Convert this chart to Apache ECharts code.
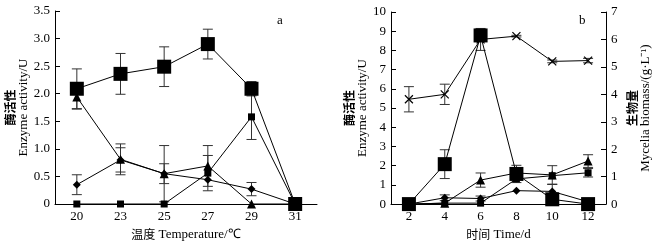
<!DOCTYPE html>
<html>
<head>
<meta charset="utf-8">
<script src="https://cdn.jsdelivr.net/npm/echarts@6/dist/echarts.min.js"></script>
<style>
    html, body { margin: 0; padding: 0; background: #fff; }
    #chart { width: 659px; height: 246px; }
</style>
</head>
<body>
<div id="chart"></div>
<script>
// panel a: temperature
const tempCats = ["20", "23", "25", "27", "29", "31"];
const aBigSq = [2.09, 2.36, 2.49, 2.90, 2.09, 0];
const aBigSqErr = [0.36, 0.37, 0.36, 0.27, 0.13, 0];
const aSmallSq = [0, 0, 0, 0.56, 1.58, 0];
const aSmallSqErr = [0, 0, 0, 0.32, 0.41, 0];
const aTri = [1.94, 0.81, 0.55, 0.69, 0, 0];
const aTriErr = [0.22, 0.28, 0.51, 0.37, 0, 0];
const aDia = [0.35, 0.80, 0.55, 0.44, 0.27, 0];
const aDiaErr = [0.18, 0.22, 0.18, 0, 0.12, 0];

// panel b: time
const timeCats = ["2", "4", "6", "8", "10", "12"];
const bBigSq = [0, 2.08, 8.78, 1.57, 0.25, 0];
const bBigSqErr = [0, 0.75, 0.25, 0.45, 0, 0];
const bSmallSq = [0, 0.05, 0.05, 1.31, 1.48, 1.63];
const bSmallSqErr = [0, 0, 0, 0, 0, 0.22];
const bTri = [0, 0.05, 1.25, 1.62, 1.52, 2.24];
const bTriErr = [0, 0, 0.37, 0, 0.48, 0.33];
const bDia = [0, 0.33, 0.29, 0.70, 0.66, 0.12];
const bDiaErr = [0, 0.15, 0.13, 0, 0.36, 0.10];
const bBiomass = [3.82, 4.00, 6.00, 6.12, 5.20, 5.23];
const bBiomassErr = [0.46, 0.37, 0.40, 0.03, 0.05, 0.08];

const serif = "'Liberation Serif', 'Times New Roman', serif";
const cjk = "'Noto Sans CJK SC', sans-serif";
const ink = "#000";

const nameRich = {
    cn: { fontFamily: cjk, fontSize: 12, fontWeight: "bold", color: ink, lineHeight: 13 },
    en: { fontFamily: serif, fontSize: 13, color: ink, lineHeight: 13 },
    cnx: { fontFamily: cjk, fontSize: 12, color: ink }
};

function catAxis(gridIndex, data, name) {
    return {
        type: "category",
        gridIndex,
        data,
        boundaryGap: true,
        name,
        nameLocation: "middle",
        nameGap: 16,
        nameTextStyle: { rich: nameRich },
        axisLine: { lineStyle: { color: ink, width: 1 } },
        axisTick: { inside: true, length: 5, lineStyle: { color: ink } },
        axisLabel: { color: ink, fontFamily: serif, fontSize: 13, margin: 6 },
        splitLine: { show: false }
    };
}

function valAxis(gridIndex, max, name, position, nameGap, fmt) {
    return {
        type: "value",
        gridIndex,
        position,
        min: 0,
        max,
        interval: max === 3.5 ? 0.5 : 1,
        name,
        nameLocation: "middle",
        nameRotate: 90,
        nameGap,
        nameTextStyle: { rich: nameRich, align: "center" },
        axisLine: { show: true, lineStyle: { color: ink, width: 1 } },
        axisTick: { show: true, inside: true, length: 5, lineStyle: { color: ink } },
        axisLabel: { color: ink, fontFamily: serif, fontSize: 13, margin: 5, formatter: fmt },
        splitLine: { show: false }
    };
}

function lineSeries(xi, yi, data, symbol, size) {
    return {
        type: "line",
        xAxisIndex: xi,
        yAxisIndex: yi,
        data,
        symbol,
        symbolSize: size,
        lineStyle: { color: ink, width: 1 },
        itemStyle: { color: ink, borderColor: ink, borderWidth: symbol.startsWith("path") ? 1.2 : 0 },
        emphasis: { disabled: true },
        animation: false,
        z: 3
    };
}

function errSeries(xi, yi, values, errs) {
    const data = [];
    values.forEach((v, i) => {
        if ( errs[i] > 0 )
            data.push([i, v - errs[i], v + errs[i]]);
    });

    return {
        type: "custom",
        xAxisIndex: xi,
        yAxisIndex: yi,
        data,
        z: 2,
        animation: false,
        renderItem: (params, api) => {
            const x = api.value(0);
            const top = api.coord([x, api.value(2)]);
            const bot = api.coord([x, api.value(1)]);
            const w = 5;
            const style = { stroke: "#333", lineWidth: 1 };
            return {
                type: "group",
                children: [
                    { type: "line", shape: { x1: top[0], y1: top[1], x2: bot[0], y2: bot[1] }, style },
                    { type: "line", shape: { x1: top[0] - w, y1: top[1], x2: top[0] + w, y2: top[1] }, style },
                    { type: "line", shape: { x1: bot[0] - w, y1: bot[1], x2: bot[0] + w, y2: bot[1] }, style }
                ]
            };
        }
    };
}

const cross = "path://M0,0L10,10M10,0L0,10";

const option = {
    backgroundColor: "#fff",
    animation: false,
    grid: [
        { left: 55, right: 342, top: 11, bottom: 42 },
        { left: 391, right: 53, top: 12, bottom: 41 }
    ],
    xAxis: [
        catAxis(0, tempCats, "{cnx|温度} {en|Temperature/℃}"),
        catAxis(1, timeCats, "{cnx|时间} {en|Time/d}")
    ],
    yAxis: [
        valAxis(0, 3.5, "{cn|酶活性}\n{en|Enzyme activity/U}", "left", 20,
            v => v === 0 ? "0" : v.toFixed(1)),
        valAxis(1, 10, "{cn|酶活性}\n{en|Enzyme activity/U}", "left", 15),
        valAxis(1, 7, "{cn|生物量}\n{en|Mycelia biomass/(g·L⁻¹)}", "right", 20)
    ],
    graphic: [
        { type: "text", left: 277, top: 14, style: { text: "a", font: "13px " + serif, fill: ink } },
        { type: "text", left: 579, top: 14, style: { text: "b", font: "13px " + serif, fill: ink } }
    ],
    series: [
        errSeries(0, 0, aBigSq, aBigSqErr),
        errSeries(0, 0, aSmallSq, aSmallSqErr),
        errSeries(0, 0, aTri, aTriErr),
        errSeries(0, 0, aDia, aDiaErr),
        lineSeries(0, 0, aDia, "diamond", 8),
        lineSeries(0, 0, aTri, "triangle", 9),
        lineSeries(0, 0, aSmallSq, "rect", 7),
        lineSeries(0, 0, aBigSq, "rect", 14),

        errSeries(1, 1, bBigSq, bBigSqErr),
        errSeries(1, 1, bSmallSq, bSmallSqErr),
        errSeries(1, 1, bTri, bTriErr),
        errSeries(1, 1, bDia, bDiaErr),
        errSeries(1, 2, bBiomass, bBiomassErr),
        lineSeries(1, 1, bDia, "diamond", 8),
        lineSeries(1, 1, bTri, "triangle", 9),
        lineSeries(1, 1, bSmallSq, "rect", 7),
        lineSeries(1, 1, bBigSq, "rect", 14),
        lineSeries(1, 2, bBiomass, cross, 8)
    ]
};

const chart = echarts.init(document.getElementById("chart"), null, { renderer: "canvas" });
chart.setOption(option);
</script>
</body>
</html>
